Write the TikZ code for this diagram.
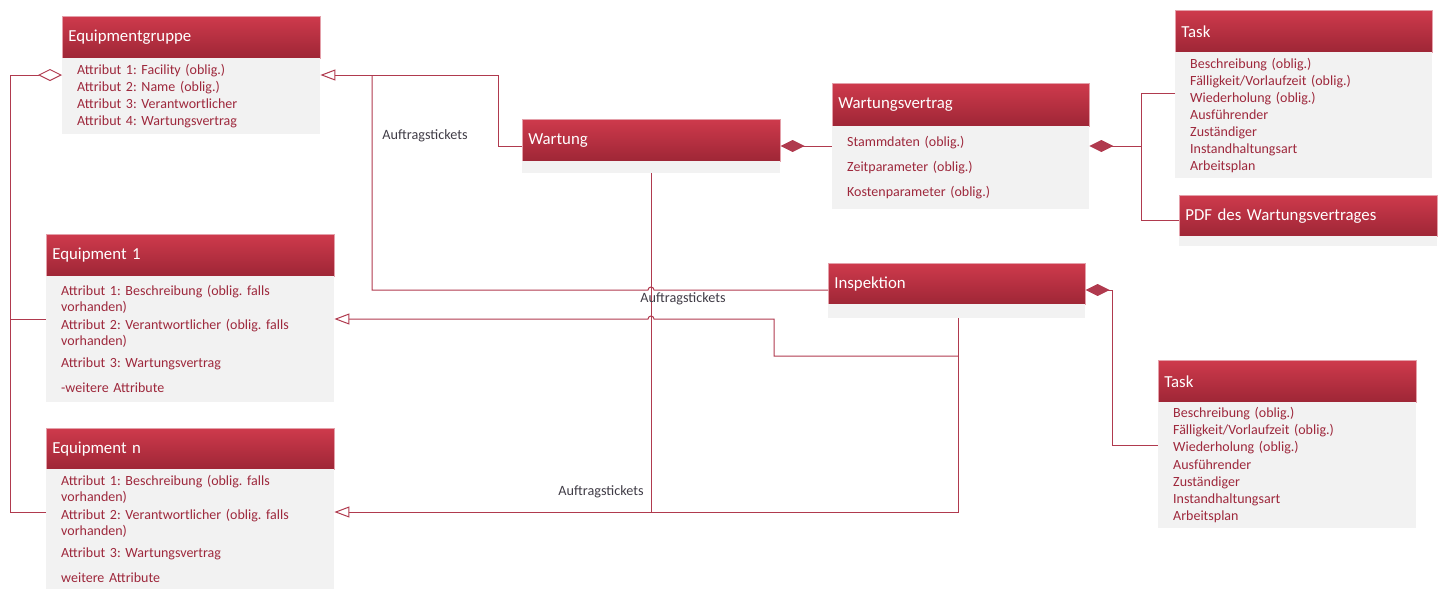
\documentclass[tikz,border=0pt]{standalone}
\usepackage{fontspec}
\setmainfont{Carlito}
\usetikzlibrary{arrows.meta,calc}
\frenchspacing
\definecolor{hdrtop}{RGB}{206,58,76}
\definecolor{hdrbot}{RGB}{158,38,54}
\definecolor{hdrline}{RGB}{228,160,170}
\definecolor{bodyfill}{RGB}{242,242,242}
\definecolor{attrtext}{RGB}{158,40,60}
\definecolor{conncol}{RGB}{176,58,78}
\definecolor{labeltext}{RGB}{64,60,70}
\tikzset{
  hdr/.style={rectangle, anchor=north west, top color=hdrtop, bottom color=hdrbot,
    draw=hdrline, line width=0.6pt, text=white, font=\fontsize{16.8}{19}\selectfont,
    align=left, inner xsep=6pt, inner ysep=0pt},
  bodybox/.style={rectangle, anchor=north west, fill=bodyfill, text=attrtext,
    font=\fontsize{14}{16.5}\selectfont, align=left, inner xsep=15pt, inner ysep=0pt},
  conn/.style={draw=conncol, line width=1pt},
  lbl/.style={text=labeltext, font=\fontsize{14.2}{16}\selectfont, inner sep=0pt},
  gen/.style={-{Triangle[open,length=15pt,width=11pt,fill=white]}},
  agg/.style={{Diamond[open,length=24pt,width=12pt,fill=white]}-},
  comp/.style={{Diamond[length=24pt,width=12pt]}-}
}
\begin{document}
\begin{tikzpicture}[x=1pt,y=-1pt]
\useasboundingbox (0,0) rectangle (1442,589);

% Equipmentgruppe
\node[hdr, text width=246pt, minimum height=42pt] (egh) at (62,16) {Equipmentgruppe};
\node[bodybox, text width=228pt, minimum height=76pt, font=\fontsize{14}{17}\selectfont] (egb) at (62,58)
  {\rule{0pt}{2pt}Attribut 1: Facility (oblig.)\\Attribut 2: Name (oblig.)\\Attribut 3: Verantwortlicher\\Attribut 4: Wartungsvertrag};

% Wartung
\node[hdr, text width=246pt, minimum height=42pt] (wh) at (522,119) {Wartung};
\node[bodybox, text width=228pt, minimum height=12pt] (wb) at (522,161) {};

% Wartungsvertrag
\node[hdr, text width=245pt, minimum height=43pt] (wvh) at (832,83) {Wartungsvertrag};
\node[bodybox, text width=227pt, minimum height=83pt] (wvb) at (832,126)
  {Stammdaten (oblig.)\\[8.5pt]Zeitparameter (oblig.)\\[8.5pt]Kostenparameter (oblig.)};

% Task (top)
\node[hdr, text width=245pt, minimum height=42pt] (t1h) at (1175,10) {Task};
\node[bodybox, text width=227pt, minimum height=126pt, font=\fontsize{14}{17}\selectfont] (t1b) at (1175,52)
  {Beschreibung (oblig.)\\Fälligkeit/Vorlaufzeit (oblig.)\\Wiederholung (oblig.)\\Ausführender\\Zuständiger\\Instandhaltungsart\\Arbeitsplan};

% PDF
\node[hdr, text width=246pt, minimum height=41pt] (pdfh) at (1179,195) {PDF des Wartungsvertrages};
\node[bodybox, text width=228pt, minimum height=10pt] (pdfb) at (1179,236) {};

% Inspektion
\node[hdr, text width=245pt, minimum height=41pt] (ih) at (828,263) {Inspektion};
\node[bodybox, text width=227pt, minimum height=14pt] (ib) at (828,304) {};

% Task (bottom)
\node[hdr, text width=246pt, minimum height=42pt] (t2h) at (1158,360) {Task};
\node[bodybox, text width=228pt, minimum height=126pt, font=\fontsize{14}{17.2}\selectfont] (t2b) at (1158,402)
  {\rule{0pt}{2pt}Beschreibung (oblig.)\\Fälligkeit/Vorlaufzeit (oblig.)\\Wiederholung (oblig.)\\Ausführender\\Zuständiger\\Instandhaltungsart\\Arbeitsplan};

% Equipment 1
\node[hdr, text width=276pt, minimum height=42pt] (e1h) at (46,234) {Equipment 1};
\node[bodybox, text width=258pt, minimum height=126pt, font=\fontsize{14}{16}\selectfont] (e1b) at (46,276)
  {Attribut 1: Beschreibung (oblig. falls\\vorhanden)\\[2pt]Attribut 2: Verantwortlicher (oblig. falls\\vorhanden)\\[6pt]Attribut 3: Wartungsvertrag\\[9pt]-weitere Attribute};

% Equipment n
\node[hdr, text width=276pt, minimum height=41pt] (enh) at (46,428) {Equipment n};
\node[bodybox, text width=258pt, minimum height=120pt, font=\fontsize{14}{16}\selectfont] (enb) at (46,469)
  {Attribut 1: Beschreibung (oblig. falls\\vorhanden)\\[2pt]Attribut 2: Verantwortlicher (oblig. falls\\vorhanden)\\[6pt]Attribut 3: Wartungsvertrag\\[9pt]weitere Attribute};

% aggregation Equipmentgruppe - Equipments
\coordinate (jL) at (10,75);
\draw[conn, agg] (egb.west |- 0,75) -- (jL) -- (jL |- 0,512) -- (enb.west |- 0,512);
\draw[conn] (jL |- 0,319) -- (e1b.west |- 0,319);

% Wartung -> Equipmentgruppe
\draw[conn, gen] (wh.west |- 0,146) -- (498,146) -- (498,75) -- (egb.east |- 0,75);
% Inspektion -> Equipmentgruppe (joins)
\draw[conn] (ih.west |- 0,290) -- (654,290) arc (0:180:3pt) -- (372,290) -- (372,75);

% Wartung -> Equipment n
\draw[conn, gen] (wb.south) -- (wb.south |- 0,512) -- (enb.east |- 0,512);
% Inspektion -> Equipment n (joins)
\draw[conn] (ib.south -| 958,0) -- (958,512) -- (wb.south |- 0,512);
% Inspektion -> Equipment 1
\coordinate (iJ) at (958,356);
\draw[conn, gen] (iJ) -- (774,356) -- (774,319) -- (654,319) arc (0:180:3pt) -- (e1b.east |- 0,319);

% compositions
\draw[conn, comp] (wh.east |- 0,146) -- (wvb.west |- 0,146);
\coordinate (jR) at (1141,146);
\draw[conn, comp] (wvb.east |- jR) -- (jR);
\draw[conn] (t1b.west |- 0,93) -- (1141,93) -- (1141,220) -- (pdfh.west |- 0,220);
\draw[conn, comp] (ih.east |- 0,290) -- (1112,290) -- (1112,445) -- (t2b.west |- 0,445);

% labels
\node[lbl] (l1) at (425,136) {Auftragstickets};
\node[lbl] (l2) at (683,299) {Auftragstickets};
\node[lbl] (l3) at (601,492) {Auftragstickets};
\end{tikzpicture}
\end{document}
